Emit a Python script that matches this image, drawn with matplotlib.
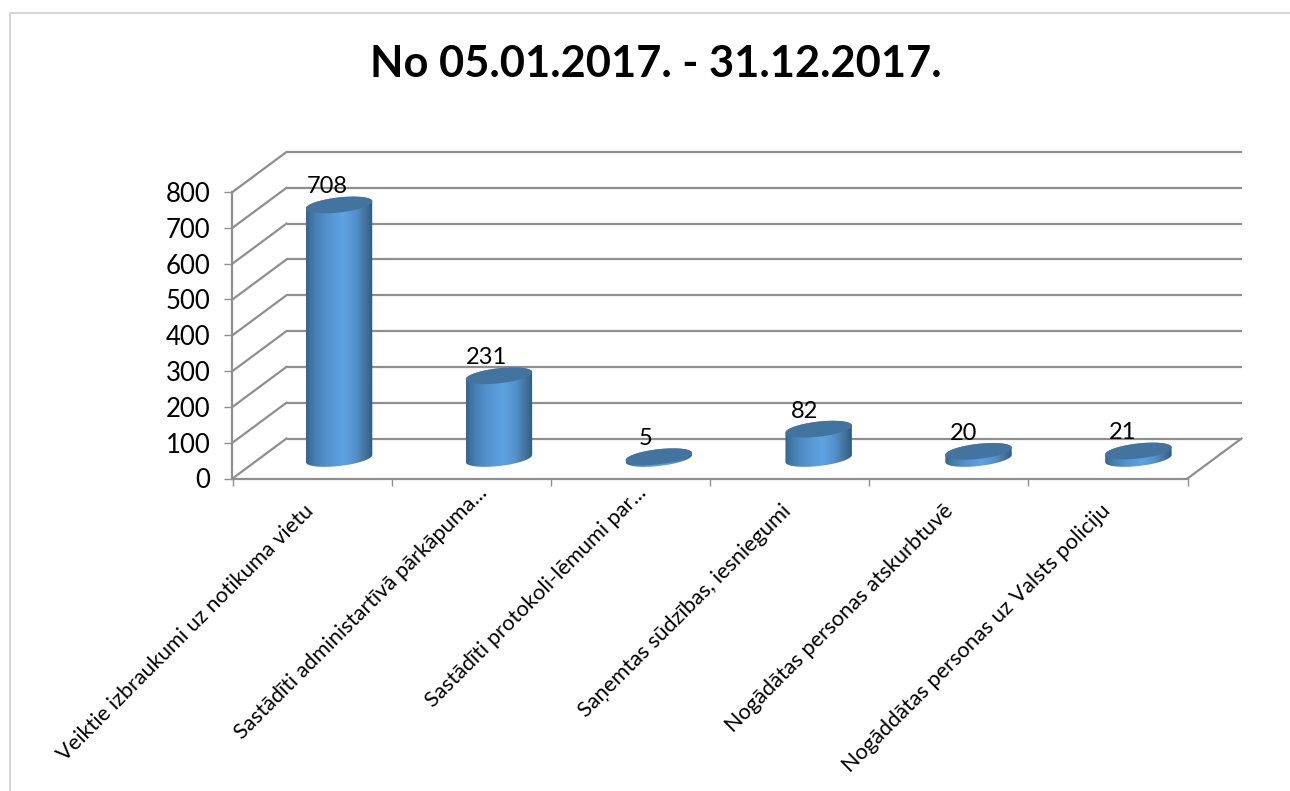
import numpy as np
import matplotlib
matplotlib.use("Agg")
import matplotlib.pyplot as plt
from matplotlib.patches import Polygon
from matplotlib.path import Path
from matplotlib.transforms import IdentityTransform, Affine2D
from matplotlib.colors import LinearSegmentedColormap
from matplotlib.lines import Line2D

title = "No 05.01.2017. - 31.12.2017."
categories = [
    "Veiktie izbraukumi uz notikuma vietu",
    "Sastādīti administartīvā pārkāpuma...",
    "Sastādīti protokoli-lēmumi par...",
    "Saņemtas sūdzības, iesniegumi",
    "Nogādātas personas atskurbtuvē",
    "Nogāddātas personas uz Valsts policiju",
]
values = [708, 231, 5, 82, 20, 21]
y_ticks = [0, 100, 200, 300, 400, 500, 600, 700, 800]

W, H = 1290, 791
plt.rcParams["font.family"] = ["Lato", "DejaVu Sans"]
fig = plt.figure(figsize=(W / 100, H / 100), dpi=100, facecolor="white")

GRAY = "#8f8f8f"
DX, DY = 54, 40          # depth of the 3-D box, pixels
LW = 1.6

# axes = the front plane of the box
L, R, B, T = 232.5, 1187.5, H - 478.5, H - 192.0
ax = fig.add_axes([L / W, B / H, (R - L) / W, (T - B) / H])
ax.set_autoscale_on(False)
ax.set_xlim(-0.5, len(categories) - 0.5)
ax.set_ylim(0, 800)
ax.patch.set_visible(False)
for s in ("top", "right"):
    ax.spines[s].set_visible(False)
for s in ("left", "bottom"):
    ax.spines[s].set_color(GRAY)
    ax.spines[s].set_linewidth(LW)

ax.set_yticks(y_ticks)
ax.tick_params(axis="y", length=5.8, width=1.0, color=GRAY, labelsize=18.5, pad=10,
               labelcolor="black")
ax.set_xticks(np.arange(-0.5, len(categories)))
ax.set_xticklabels([])
ax.tick_params(axis="x", which="major", length=5, width=1.0, color=GRAY)
ax.set_xticks(np.arange(len(categories)), minor=True)
ax.set_xticklabels(categories, minor=True, rotation=45, ha="right", va="top",
                   rotation_mode="anchor", fontsize=15.7)
ax.tick_params(axis="x", which="minor", length=0, pad=16)
label_shift = [(-9, 0), (6, 18), (6, 18), (-9, 0), (-6, 0), (-8, 0)]
for lab, (dx, dy) in zip(ax.get_xticklabels(minor=True), label_shift):
    lab.set_transform(lab.get_transform() + Affine2D().translate(dx, dy))

fig.canvas.draw()
to_px = ax.transData.transform
to_data = ax.transData.inverted().transform
ident = IdentityTransform()

# back wall gridlines + side wall diagonals
back = ax.transData + Affine2D().translate(DX, DY)
for v in y_ticks:
    ax.plot([-0.5, len(categories) - 0.5], [v, v], color=GRAY, lw=LW, transform=back,
            clip_on=False, zorder=1, solid_capstyle="butt")
    x0, y0 = to_px((-0.5, v))
    ax.add_line(Line2D([x0, x0 + DX], [y0, y0 + DY], color=GRAY, lw=LW, transform=ident,
                       clip_on=False, zorder=1))
x0, y0 = to_px((len(categories) - 0.5, 0))
ax.add_line(Line2D([x0, x0 + DX], [y0, y0 + DY], color=GRAY, lw=LW, transform=ident,
                   clip_on=False, zorder=1))

# cylinders
cmap = LinearSegmentedColormap.from_list("cyl", [
    (0.00, "#37648f"), (0.12, "#447ead"), (0.30, "#5391cc"), (0.55, "#5fa3e3"),
    (0.75, "#5391c9"), (0.90, "#427199"), (1.00, "#2f5b84"),
])
grad = np.linspace(0, 1, 256).reshape(1, -1)
BAR_W = 0.42
THETA = np.radians(6.5)
PERSPECTIVE = 0.7        # extra pixels per category on the mid-depth plane
t = np.linspace(0, 2 * np.pi, 241)[:-1]


def ellipse(cx, cy, a, b=7.5):
    ex = cx + a * np.cos(t) * np.cos(THETA) - b * np.sin(t) * np.sin(THETA)
    ey = cy + a * np.cos(t) * np.sin(THETA) + b * np.sin(t) * np.cos(THETA)
    return np.column_stack([ex, ey])


for i, v in enumerate(values):
    cx, base = to_px((i, 0))
    cx += DX / 2 + PERSPECTIVE * i
    base += DY / 2
    _, top = to_px((i, v))
    top += DY / 2
    a = (to_px((i + BAR_W / 2, 0))[0] - to_px((i - BAR_W / 2, 0))[0]) / 2
    et, eb = ellipse(cx, top, a), ellipse(cx, base, a)
    iR, iL = np.argmax(eb[:, 0]), np.argmin(eb[:, 0])
    # lower arc of the base: left extreme -> right extreme through the bottom
    lower = np.roll(eb, -iL, axis=0)[: (iR - iL) % len(t) + 1]
    # upper arc of the top: right extreme -> left extreme through the top
    upper = np.roll(et, -iR, axis=0)[: (iL - iR) % len(t) + 1]
    body = np.vstack([lower, upper, lower[:1]])
    (xa, ya), (xb, yb) = to_data((eb[:, 0].min(), base - 20)), to_data((eb[:, 0].max(), top + 20))
    im = ax.imshow(grad, extent=(xa, xb, ya, yb), aspect="auto", cmap=cmap, zorder=3,
                   interpolation="bilinear")
    im.set_clip_path(Path(body), ident)
    ax.add_patch(Polygon(et, closed=True, facecolor="#42749f", edgecolor="none",
                         transform=ident, clip_on=False, zorder=4))
    ax.annotate(str(v), xy=(i, v), xytext=(DX / 2 - 12, DY / 2 + 18),
                textcoords="offset pixels", ha="center", va="center", fontsize=17,
                color="black", zorder=5, annotation_clip=False)

ax.set_xlim(-0.5, len(categories) - 0.5)
ax.set_ylim(0, 800)

# chart border
fig.add_artist(Line2D([9.5 / W, 9.5 / W, 1], [0, 1 - 12.5 / H, 1 - 12.5 / H],
                      color="#d0d0d0", lw=1.2, transform=fig.transFigure))

fig.text(656 / W, 1 - 64 / H, title, ha="center", va="center", fontsize=31.2,
         fontweight="bold", color="black")

fig.savefig("out.png", dpi=100, facecolor="white")
